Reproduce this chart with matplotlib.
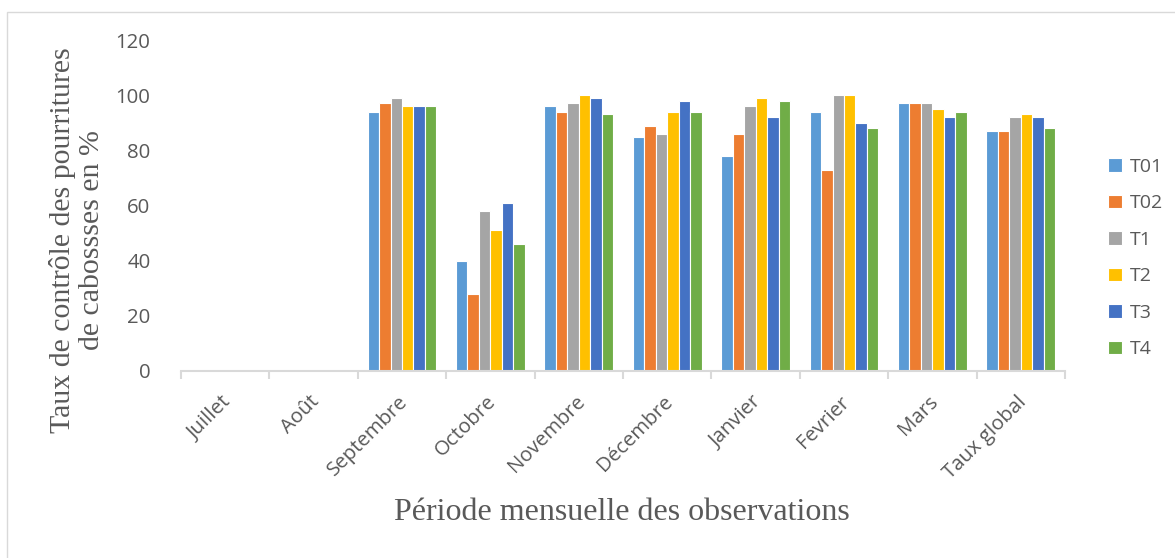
import matplotlib
matplotlib.use("Agg")
import matplotlib.pyplot as plt
import numpy as np
from matplotlib.patches import Rectangle
from matplotlib.transforms import ScaledTranslation

months = ["Juillet", "Août", "Septembre", "Octobre", "Novembre", "Décembre",
          "Janvier", "Fevrier", "Mars", "Taux global"]
series_names = ["T01", "T02", "T1", "T2", "T3", "T4"]

# Control rate (%) per treatment; no observations in July and August
t01 = [0, 0, 94, 40, 96, 85, 78, 94, 97, 87]
t02 = [0, 0, 97, 28, 94, 89, 86, 73, 97, 87]
t1 = [0, 0, 99, 58, 97, 86, 96, 100, 97, 92]
t2 = [0, 0, 96, 51, 100, 94, 99, 100, 95, 93]
t3 = [0, 0, 96, 61, 99, 98, 92, 90, 92, 92]
t4 = [0, 0, 96, 46, 93, 94, 98, 88, 94, 88]
series_values = [t01, t02, t1, t2, t3, t4]

yticks = [0, 20, 40, 60, 80, 100, 120]

colors = ["#5B9BD5", "#ED7D31", "#A5A5A5", "#FFC000", "#4472C4", "#70AD47"]
text_gray = "#595959"
axis_gray = "#D9D9D9"

W, H = 1175, 558
fig = plt.figure(figsize=(W / 100, H / 100), dpi=100)
ax = fig.add_axes([181 / W, 1 - 371 / H, (1065 - 181) / W, (371 - 40) / H])

x = np.arange(len(months))
bw = 0.13
n = len(series_names)
for i, (name, vals, c) in enumerate(zip(series_names, series_values, colors)):
    offs = (i - (n - 1) / 2) * bw
    ax.bar(x + offs, vals, width=bw, color=c, edgecolor="white",
           linewidth=0.8, label=name)

ax.set_xlim(-0.5, len(months) - 0.5)
ax.set_ylim(0, 120)
ax.set_yticks(yticks)
ax.set_yticklabels([str(v) for v in yticks], fontsize=14.7, color=text_gray,
                   family="Open Sans")
ax.tick_params(axis="y", length=0, pad=22)

# Category labels centred on groups; tick marks at group boundaries
ax.set_xticks(x)
ax.set_xticklabels(months, rotation=45, ha="right", rotation_mode="anchor",
                   fontsize=14.7, color=text_gray, family="Open Sans")
ax.tick_params(axis="x", which="major", length=0, pad=15)
shift = ScaledTranslation(-4 / 100, 0, fig.dpi_scale_trans)
for lbl in ax.get_xticklabels():
    lbl.set_transform(lbl.get_transform() + shift)
ax.set_xticks(np.arange(-0.5, len(months)), minor=True)
ax.tick_params(axis="x", which="minor", length=6, width=1.5, color=axis_gray)

for s in ["top", "right", "left"]:
    ax.spines[s].set_visible(False)
ax.spines["bottom"].set_color(axis_gray)
ax.spines["bottom"].set_linewidth(1.5)

fig.text(77 / W, 1 - 240 / H,
         "Taux de contrôle des pourritures\nde cabossses en %",
         rotation=90, ha="center", va="center", multialignment="center",
         fontsize=21.5, color=text_gray, family="Liberation Serif",
         linespacing=1.15)
fig.text(622 / W, 1 - 513 / H, "Période mensuelle des observations",
         ha="center", va="center", fontsize=23, color=text_gray,
         family="Liberation Serif")

leg = fig.legend(loc="center left", bbox_to_anchor=(1108 / W, 1 - 258 / H),
                 frameon=False, handlelength=0.7,
                 handleheight=0.7, handletextpad=0.4, labelspacing=0.95,
                 borderpad=0, borderaxespad=0,
                 prop={"family": "Open Sans", "size": 14})
for t in leg.get_texts():
    t.set_color(text_gray)

fig.patches.append(Rectangle((7 / W, -0.1), 1.2, 1 - 12 / H + 0.1,
                             transform=fig.transFigure, fill=False,
                             edgecolor=axis_gray, linewidth=1))

fig.savefig("out.png", dpi=100, facecolor="white")
